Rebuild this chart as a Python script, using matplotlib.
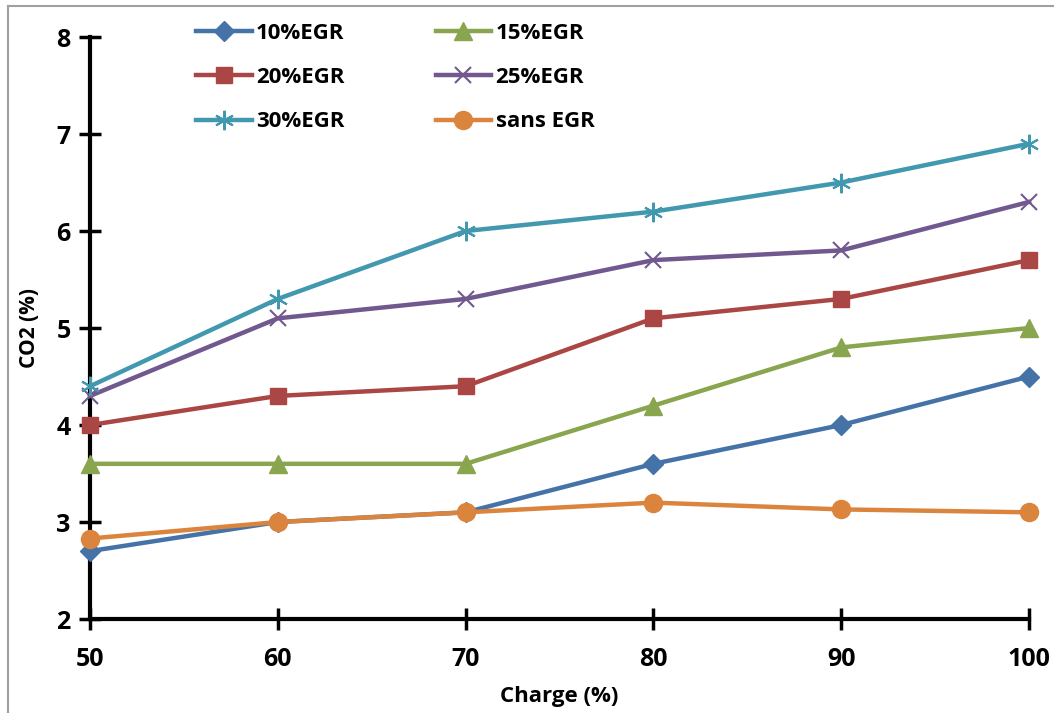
import matplotlib.pyplot as plt
from matplotlib.lines import Line2D

charge = [50, 60, 70, 80, 90, 100]

egr_10 = [2.7, 3.0, 3.1, 3.6, 4.0, 4.5]
egr_15 = [3.6, 3.6, 3.6, 4.2, 4.8, 5.0]
egr_20 = [4.0, 4.3, 4.4, 5.1, 5.3, 5.7]
egr_25 = [4.3, 5.1, 5.3, 5.7, 5.8, 6.3]
egr_30 = [4.4, 5.3, 6.0, 6.2, 6.5, 6.9]
sans_egr = [2.83, 3.0, 3.1, 3.2, 3.13, 3.1]

series_labels = ["10%EGR", "15%EGR", "20%EGR", "25%EGR", "30%EGR", "sans EGR"]

plt.rcParams["font.family"] = ["Open Sans", "DejaVu Sans"]
plt.rcParams["font.weight"] = "bold"

fig = plt.figure(figsize=(10.54, 7.13), dpi=100)
ax = fig.add_axes([0.0854, 0.1318, 0.891, 0.8163])

styles = [
    (egr_10, "#4572A7", dict(marker="D", markersize=10)),
    (egr_15, "#89A54E", dict(marker="^", markersize=13)),
    (egr_20, "#AA4643", dict(marker="s", markersize=12)),
    (egr_25, "#71588F", dict(marker="x", markersize=12, markeredgewidth=1.5)),
    (egr_30, "#4198AF", dict(marker=(6, 2, 0), markersize=14, markeredgewidth=1.5)),
    (sans_egr, "#DB843D", dict(marker="o", markersize=13)),
]

handles = []
for (vals, color, mk), label in zip(styles, series_labels):
    (ln,) = ax.plot(charge, vals, color=color, linewidth=3.2, label=label,
                    markerfacecolor=color, markeredgecolor=color, clip_on=False,
                    zorder=3, **mk)
    handles.append(ln)

ax.set_xlim(50, 100)
ax.set_ylim(2, 8)
ax.set_xticks(charge)
ax.set_yticks(range(2, 9))
for s in ["top", "right"]:
    ax.spines[s].set_visible(False)
for s in ["left", "bottom"]:
    ax.spines[s].set_linewidth(3)
ax.tick_params(direction="inout", length=16, width=2.5, labelsize=18)
ax.tick_params(axis="x", pad=12)
ax.tick_params(axis="y", pad=6)
for lbl in ax.get_xticklabels() + ax.get_yticklabels():
    lbl.set_fontweight("bold")

ax.set_xlabel("Charge (%)", fontsize=16, fontweight="bold", labelpad=10)
ax.set_ylabel("CO2 (%)", fontsize=15, fontweight="bold", labelpad=12)

# legend rows: 10/15, 20/25, 30/sans
order = [0, 2, 4, 1, 3, 5]
fig.legend([handles[i] for i in order], [series_labels[i] for i in order],
           ncol=2, loc="upper left", bbox_to_anchor=(0.186, 0.968),
           frameon=False, handlelength=2.5, handletextpad=0.2,
           labelspacing=1.05, columnspacing=4.1, borderpad=0, borderaxespad=0,
           prop={"weight": "bold", "size": 16})

# outer frame of the chart area (left and top edges)
fig.add_artist(Line2D([8 / 1054, 8 / 1054], [0, 1 - 6 / 713],
                      transform=fig.transFigure, color="#A0A0A0", linewidth=1.5))
fig.add_artist(Line2D([8 / 1054, 1], [1 - 6 / 713, 1 - 6 / 713],
                      transform=fig.transFigure, color="#A0A0A0", linewidth=1.5))

fig.savefig("out.png", dpi=100)
